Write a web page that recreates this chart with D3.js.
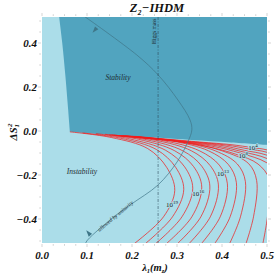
<!DOCTYPE html>
<html><head><meta charset="utf-8">
<script src="https://cdn.jsdelivr.net/npm/d3@7"></script>
<style>body{margin:0;background:#fff}svg{display:block}</style>
</head><body>
<script>
// ---------- data ----------
const xTicks = [0.0, 0.1, 0.2, 0.3, 0.4, 0.5];
const yTicks = [0.4, 0.2, 0.0, -0.2, -0.4];
const title = "Z\u2082\u2212IHDM";
// stability region outline (lambda1, DeltaS1^2): left edge and lower edge
const stabilityLeft = [[0.038,0.52],[0.045,0.40],[0.052,0.25],[0.058,0.10],[0.062,-0.003]];
const stabilityBottom = [[0.062,-0.003],[0.15,-0.018],[0.25,-0.030],[0.333,-0.041],[0.42,-0.052],[0.5,-0.063]];
// unitarity boundary
const unitarity = [[0.095,0.52],[0.211,0.345],[0.258,0.255],[0.302,0.141],[0.329,0.05],[0.333,0.005],
  [0.324,-0.05],[0.300,-0.141],[0.258,-0.245],[0.196,-0.336],[0.151,-0.405],[0.098,-0.505],[0.097,-0.52]];
const higgsLambda = 0.258;
// cutoff scale contours (exponents 19 ... 4)
const contourExp = [19,18,17,16,15,14,13,12,11,10,9,8,7,6,5,4];
const contourPts = [
 [[0.062,-0.004],[0.155,-0.03],[0.235,-0.08],[0.277,-0.165],[0.295,-0.27],[0.27,-0.39],[0.200,-0.52]],
 [[0.09,-0.009],[0.175,-0.033],[0.255,-0.085],[0.297,-0.165],[0.315,-0.265],[0.29,-0.39],[0.225,-0.52]],
 [[0.12,-0.012],[0.195,-0.036],[0.275,-0.088],[0.317,-0.163],[0.335,-0.26],[0.311,-0.39],[0.248,-0.52]],
 [[0.14,-0.015],[0.215,-0.038],[0.295,-0.09],[0.337,-0.162],[0.355,-0.255],[0.333,-0.39],[0.272,-0.52]],
 [[0.15,-0.017],[0.233,-0.04],[0.313,-0.09],[0.355,-0.16],[0.373,-0.25],[0.353,-0.39],[0.297,-0.52]],
 [[0.155,-0.018],[0.252,-0.042],[0.332,-0.09],[0.374,-0.158],[0.392,-0.245],[0.374,-0.39],[0.323,-0.52]],
 [[0.16,-0.019],[0.27,-0.044],[0.35,-0.09],[0.394,-0.155],[0.412,-0.24],[0.396,-0.39],[0.351,-0.52]],
 [[0.165,-0.02],[0.29,-0.046],[0.37,-0.09],[0.414,-0.152],[0.432,-0.235],[0.418,-0.39],[0.381,-0.52]],
 [[0.17,-0.021],[0.30,-0.047],[0.385,-0.09],[0.434,-0.15],[0.452,-0.23],[0.441,-0.39],[0.415,-0.52]],
 [[0.175,-0.022],[0.31,-0.048],[0.40,-0.09],[0.459,-0.148],[0.477,-0.225],[0.47,-0.39],[0.452,-0.52]],
 [[0.18,-0.022],[0.30,-0.048],[0.37,-0.072],[0.43,-0.105],[0.48,-0.15],[0.505,-0.22],[0.501,-0.39],[0.49,-0.52]],
 [[0.185,-0.022],[0.31,-0.049],[0.38,-0.07],[0.44,-0.1],[0.5,-0.145],[0.535,-0.215],[0.533,-0.39],[0.53,-0.52]],
 [[0.19,-0.023],[0.32,-0.05],[0.39,-0.068],[0.447,-0.095],[0.5,-0.125],[0.56,-0.2]],
 [[0.195,-0.023],[0.33,-0.05],[0.40,-0.066],[0.45,-0.088],[0.5,-0.11],[0.58,-0.19]],
 [[0.2,-0.024],[0.34,-0.05],[0.41,-0.064],[0.46,-0.082],[0.5,-0.097],[0.6,-0.18]],
 [[0.205,-0.024],[0.35,-0.05],[0.42,-0.062],[0.469,-0.076],[0.5,-0.086],[0.62,-0.17]]
];
const contourLabels = [
 {exp:19, at:[0.289,-0.336]},
 {exp:16, at:[0.347,-0.282]},
 {exp:13, at:[0.402,-0.191]},
 {exp:8,  at:[0.447,-0.112]},
 {exp:4,  at:[0.469,-0.076]}
];

// ---------- drawing ----------
const W=275,H=276;
const svg=d3.select("body").append("svg").attr("width",W).attr("height",H);
const x=d3.scaleLinear().domain([0,0.5]).range([42,267]);
const y=d3.scaleLinear().domain([-0.5,0.5]).range([241,21]);
const pTop=17,pBot=243;
const serif="'Liberation Serif','DejaVu Serif',serif";

svg.append("defs").append("clipPath").attr("id","plot")
  .append("rect").attr("x",x(0)).attr("y",pTop).attr("width",x(0.5)-x(0)).attr("height",pBot-pTop);

const g=svg.append("g").attr("clip-path","url(#plot)");
g.append("rect").attr("x",x(0)).attr("y",pTop).attr("width",x(0.5)-x(0)).attr("height",pBot-pTop).attr("fill","#abdde9");
const cr=d3.line().x(d=>x(d[0])).y(d=>y(d[1])).curve(d3.curveCatmullRom.alpha(0.5));
const regionPath = cr(stabilityLeft) + cr(stabilityBottom).replace(/^M/,"L") +
  `L${x(0.5)},${pTop-2}Z`;
g.append("path").attr("d",regionPath).attr("fill","#51a4bf");

contourPts.forEach(pts=>{
  g.append("path").attr("d",cr(pts)).attr("fill","none").attr("stroke","#f01c1c")
   .attr("stroke-width",0.8).attr("stroke-opacity",0.9);
});

// unitarity
g.append("path").attr("d",cr(unitarity)).attr("fill","none").attr("stroke","#3f7688").attr("stroke-width",0.7);
// Higgs mass line
g.append("line").attr("x1",x(higgsLambda)).attr("x2",x(higgsLambda)).attr("y1",pTop).attr("y2",pBot)
  .attr("stroke","#2d4a5a").attr("stroke-width",0.6).attr("stroke-dasharray","3,1.5,1,1.5");

// arrows
function tri(cx,cy,ang){
  g.append("path").attr("d","M0,-4L2.2,2.5L-2.2,2.5Z").attr("fill","#3f7688")
   .attr("transform",`translate(${cx},${cy}) rotate(${ang})`);
}
tri(x(0.118),y(0.46),-140);
tri(x(0.104),y(-0.465),-40);

// contour labels
contourLabels.forEach(l=>{
  const t=g.append("text").attr("x",x(l.at[0])).attr("y",y(l.at[1])+2.5).attr("text-anchor","middle")
   .attr("font-family",serif).attr("font-size",7).attr("fill","#222")
   .attr("stroke","#abdde9").attr("stroke-width",1.5).attr("paint-order","stroke");
  t.append("tspan").text("10");
  t.append("tspan").attr("font-size",5).attr("dy",-3).text(l.exp);
});

// region texts
svg.append("text").attr("x",118).attr("y",80).attr("text-anchor","middle").attr("font-family",serif)
  .attr("font-style","italic").attr("font-size",7.5).attr("fill","#1e2d33").text("Stability");
svg.append("text").attr("x",82).attr("y",174).attr("text-anchor","middle").attr("font-family",serif)
  .attr("font-style","italic").attr("font-size",7.5).attr("fill","#1e2d33").text("Instability");
svg.append("text").attr("transform",`translate(${x(0.128)},${y(-0.458)}) rotate(-40)`)
  .attr("font-family",serif).attr("font-style","italic").attr("font-size",5.5).attr("fill","#1e2d33").text("allowed by unitarity");
svg.append("text").attr("transform",`translate(${x(higgsLambda)-2},44) rotate(-90)`)
  .attr("font-family",serif).attr("font-size",5.5).attr("fill","#1e2d33").text("Higgs mass");

// ticks
const tk=svg.append("g").attr("stroke","#b8b8b8").attr("stroke-width",0.6);
d3.range(0,0.5001,0.025).forEach(v=>{
  const L=(Math.abs(v*10-Math.round(v*10))<1e-6)?3:1.8;
  tk.append("line").attr("x1",x(v)).attr("x2",x(v)).attr("y1",pBot+1).attr("y2",pBot+1+L);
  tk.append("line").attr("x1",x(v)).attr("x2",x(v)).attr("y1",pTop-1).attr("y2",pTop-1-L);
});
d3.range(-0.5,0.5001,0.05).forEach(v=>{
  const L=(Math.abs(v*10-Math.round(v*10))<1e-6 && Math.round(v*10)%2===0)?3:1.8;
  tk.append("line").attr("x1",x(0)-1).attr("x2",x(0)-1-L).attr("y1",y(v)).attr("y2",y(v));
  tk.append("line").attr("x1",x(0.5)+1).attr("x2",x(0.5)+1+L).attr("y1",y(v)).attr("y2",y(v));
});

// tick labels
xTicks.forEach(v=>svg.append("text").attr("x",x(v)).attr("y",259).attr("text-anchor","middle")
  .attr("font-family",serif).attr("font-weight","bold").attr("font-style","italic").attr("font-size",11)
  .attr("fill","#111").text(v.toFixed(1)));
yTicks.forEach(v=>svg.append("text").attr("x",37).attr("y",y(v)+4).attr("text-anchor","end")
  .attr("font-family",serif).attr("font-weight","bold").attr("font-style","italic").attr("font-size",11)
  .attr("fill","#111").text((v<0?"\u2212":"")+Math.abs(v).toFixed(1)));

// title
svg.append("text").attr("x",157).attr("y",12).attr("text-anchor","middle").attr("font-family",serif)
  .attr("font-weight","bold").attr("font-style","italic").attr("font-size",12.5).attr("fill","#111").text(title);
// x label
const xl=svg.append("text").attr("x",155).attr("y",271).attr("text-anchor","middle").attr("font-family",serif)
  .attr("font-weight","bold").attr("font-style","italic").attr("font-size",10.5).attr("fill","#111");
xl.append("tspan").text("\u03bb");
xl.append("tspan").attr("font-size",6.5).attr("dy",1.5).text("1");
xl.append("tspan").attr("dy",-1.5).text("(m");
xl.append("tspan").attr("font-size",6.5).attr("dy",1.5).text("z");
xl.append("tspan").attr("dy",-1.5).text(")");
// y label
const yl=svg.append("text").attr("transform","translate(17,132) rotate(-90)").attr("text-anchor","middle")
  .attr("font-family",serif).attr("font-weight","bold").attr("font-style","italic").attr("font-size",11).attr("fill","#111");
yl.append("tspan").text("\u0394S");
yl.append("tspan").attr("font-size",7).attr("dy",2).text("1");
yl.append("tspan").attr("font-size",7).attr("dy",-7).attr("dx",-3).text("2");
</script>
</body></html>
